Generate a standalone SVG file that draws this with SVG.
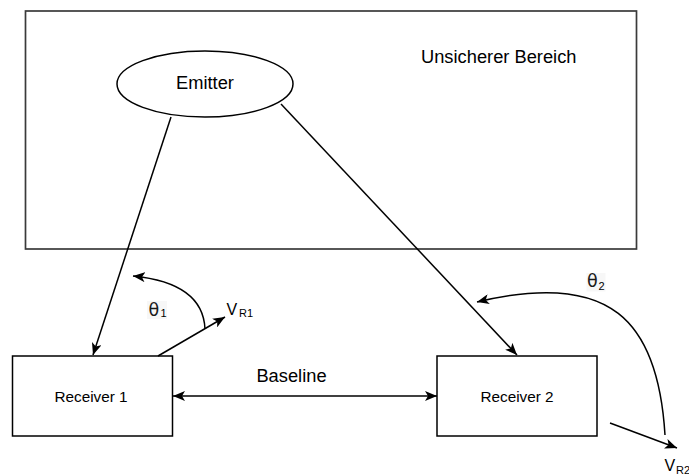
<svg xmlns="http://www.w3.org/2000/svg" width="689" height="475" viewBox="0 0 689 475">
  <style>
    .box { fill: #ffffff; stroke: #000000; stroke-width: 1.5; }
    .area { fill: #ffffff; stroke: #3a3a3a; stroke-width: 1.7; }
    .edge { fill: none; stroke: #000000; stroke-width: 1.5; }
    .lbl { font-family: "Liberation Sans", Arial, sans-serif; fill: #000000; }
    .big { font-size: 18.3px; }
    .mid { font-size: 15.3px; }
    .sub { font-size: 11px; }
    .sym { font-size: 16px; }
    .theta { font-family: "DejaVu Sans", "Liberation Sans", sans-serif; font-size: 17.5px; fill: #1a1a1a; }
    .bg { fill: #f7f7f7; stroke: none; }
  </style>
  <defs>
    <marker id="arrow" markerUnits="userSpaceOnUse" viewBox="0 0 12 10" refX="12" refY="5" markerWidth="12" markerHeight="10" orient="auto-start-reverse">
      <path d="M0,0 L12,5 L0,10 L3,5 Z" fill="#000000"/>
    </marker>
  </defs>

  <rect width="689" height="475" fill="#ffffff"/>

  <!-- uncertain region -->
  <g id="region">
    <rect class="area" x="25.5" y="11" width="611" height="238"/>
    <text class="lbl big" x="421" y="63">Unsicherer Bereich</text>
  </g>

  <g id="emitter">
    <ellipse class="box" cx="205" cy="84" rx="88" ry="33"/>
    <text class="lbl big" x="205" y="89" text-anchor="middle">Emitter</text>
  </g>

  <g id="receiver1">
    <rect class="box" x="12.5" y="356" width="160" height="80"/>
    <text class="lbl mid" x="91" y="401.5" text-anchor="middle">Receiver 1</text>
  </g>

  <g id="receiver2">
    <rect class="box" x="437" y="356" width="160" height="80"/>
    <text class="lbl mid" x="517" y="401.5" text-anchor="middle">Receiver 2</text>
  </g>

  <g id="connectors">
    <!-- signal paths -->
    <line class="edge" x1="171" y1="117" x2="93" y2="355" marker-end="url(#arrow)"/>
    <line class="edge" x1="281" y1="104" x2="517" y2="355" marker-end="url(#arrow)"/>
    <!-- baseline -->
    <line class="edge" x1="173" y1="396" x2="437" y2="396" marker-start="url(#arrow)" marker-end="url(#arrow)"/>
    <!-- receiver velocities -->
    <line class="edge" x1="158" y1="356" x2="225" y2="317" marker-end="url(#arrow)"/>
    <line class="edge" x1="610" y1="423" x2="677" y2="448" marker-end="url(#arrow)"/>
    <!-- angles -->
    <path class="edge" d="M205,329 Q203,283 133,276" marker-end="url(#arrow)"/>
    <path class="edge" d="M665,435 C658,320 610,270 477,302" marker-end="url(#arrow)"/>
  </g>

  <g id="labels">
    <text class="lbl big" x="291.5" y="381.5" text-anchor="middle">Baseline</text>

    <rect class="bg" x="147" y="301" width="20" height="18"/>
    <text><tspan class="theta" x="148.5" y="315.5">θ</tspan><tspan class="lbl sub" x="160.5" y="317">1</tspan></text>

    <text class="lbl"><tspan class="sym" x="226.5" y="315">V</tspan><tspan class="sub" x="239" y="316.5">R1</tspan></text>

    <rect class="bg" x="586.5" y="273" width="19" height="18.5"/>
    <text><tspan class="theta" x="587" y="287">θ</tspan><tspan class="lbl sub" x="598.5" y="290">2</tspan></text>

    <text class="lbl"><tspan class="sym" x="664.5" y="471">V</tspan><tspan class="sub" x="676" y="474">R2</tspan></text>
  </g>
</svg>
